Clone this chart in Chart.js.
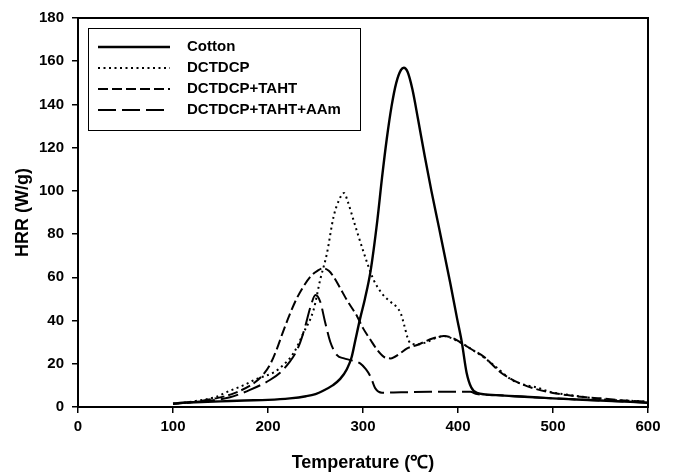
<!DOCTYPE html>
<html><head><meta charset="utf-8">
<script src="https://cdn.jsdelivr.net/npm/chart.js@4/dist/chart.umd.min.js"></script>
<style>html,body{margin:0;padding:0;background:#fff}canvas{display:block}</style>
</head><body>
<canvas id="c" width="684" height="474"></canvas>
<script>
// ---- data ----
const seriesLabels = ['Cotton', 'DCTDCP', 'DCTDCP+TAHT', 'DCTDCP+TAHT+AAm'];

const cottonT   = [100,110,130,150,175,200,223,240,250,258,268,276,283,288,292,297,302,308,315,320,325,330,335,340,343,347,352,358,365,372,380,392,399,404,409,414,420,440,460,480,500,525,550,575,600];
const cottonHRR = [1.5,2,2.3,2.6,3,3.3,4,5,6,7.5,10,13,17.5,23,31,41,50,63,86,106,124,139,150,156,157,155,147,133,116,100,83,57,41,30,16,9,6.5,5.5,5,4.5,4,3.5,3,2.5,2];

const dctT   = [100,120,146,157,174,188,206,215,227,237,248,255,262,269,275,280,284,290,300,311,320,328,336,340,343,347,350,358,367,374,385,395,404,415,427,440,455,468,483,497,518,535,553,575,600];
const dctHRR = [1.5,2.5,4.8,7,10,13,16,19,25,34,45,59,71,88,96,99,95,86.5,72.5,59,52.5,49,46,43,38.5,32,29.5,29,30,31.5,32.8,31.5,29.5,26.5,23,18.5,13,10.5,9,7,5.5,4.5,3.5,3,2.5];

const tahtT   = [100,115,129,145,164,185,195,202,209,216,223,230,237,245,252,258,264,269,276,283,294,300,308,315,322,329,339,346,357,374,385,395,404,415,427,445,460,480,500,515,535,550,575,600];
const tahtHRR = [1.5,2,2.8,4,6.3,11,15,19.5,26.5,35,43,50,55.5,60.5,63,64.2,63,60.3,55,49.5,41.8,36.5,31,26.4,23.2,22.5,24.8,27,28.7,31.8,32.8,31.8,29.5,26.5,23.3,16,12,8.6,6.5,5.5,4.5,4,3,2.5];

const aamT   = [100,120,140,160,181,202,213,223,229,234,239,244.5,250,255,260,265.5,272.6,280,287,297,303,308,313,320,340,370,400,413,420,440,460,480,500,525,550,575,600];
const aamHRR = [1.5,2.2,3,4.5,7.9,12.5,16,21,25,30,37,46,51.8,48.7,39.5,30.2,24,22.5,21.7,20.2,17.5,14,8.6,6.6,6.8,7,7.1,7,6,5.5,5,4.5,4,3.5,3,2.5,2];

const xTicks = [0,100,200,300,400,500,600];
const yTicks = [0,20,40,60,80,100,120,140,160,180];

// ---- chart ----
const FONT = "'Liberation Sans', Arial, Helvetica, sans-serif";
function pts(t, v) { return t.map((x, i) => ({x: x, y: v[i]})); }

const boxLegend = {
  id: 'boxLegend',
  afterDatasetsDraw(chart) {
    const {ctx, chartArea: a} = chart;
    const left = a.left + 10, top = a.top + 10, w = 272, h = 102;
    ctx.save();
    ctx.fillStyle = '#fff';
    ctx.fillRect(left, top, w, h);
    ctx.strokeStyle = '#000';
    ctx.lineWidth = 1;
    ctx.strokeRect(left + 0.5, top + 0.5, w, h);
    ctx.font = 'bold 15px ' + FONT;
    ctx.textBaseline = 'middle';
    ctx.textAlign = 'left';
    chart.data.datasets.forEach((ds, i) => {
      const y = top + 19 + i * 21;
      ctx.strokeStyle = ds.borderColor;
      ctx.lineWidth = ds.borderWidth;
      ctx.setLineDash(ds.borderDash || []);
      ctx.beginPath();
      ctx.moveTo(left + 10, y);
      ctx.lineTo(left + 82, y);
      ctx.stroke();
      ctx.setLineDash([]);
      ctx.fillStyle = '#000';
      ctx.fillText(ds.label, left + 99, y);
    });
    ctx.restore();
  }
};

const tickFont = {family: FONT, size: 15, weight: 'bold'};
const titleFont = {family: FONT, size: 18, weight: 'bold'};

new Chart(document.getElementById('c'), {
  type: 'line',
  data: {
    datasets: [
      {label: seriesLabels[0], data: pts(cottonT, cottonHRR), borderColor: '#000', borderWidth: 2.4, borderDash: []},
      {label: seriesLabels[1], data: pts(dctT, dctHRR), borderColor: '#000', borderWidth: 2, borderDash: [2, 3.5]},
      {label: seriesLabels[2], data: pts(tahtT, tahtHRR), borderColor: '#000', borderWidth: 2, borderDash: [10, 4]},
      {label: seriesLabels[3], data: pts(aamT, aamHRR), borderColor: '#000', borderWidth: 2, borderDash: [18, 6]}
    ]
  },
  options: {
    responsive: false,
    animation: false,
    layout: {padding: 0},
    elements: {point: {radius: 0}, line: {cubicInterpolationMode: 'monotone', fill: false}},
    plugins: {legend: {display: false}, tooltip: {enabled: false}},
    scales: {
      x: {
        type: 'linear', position: 'bottom', min: 0, max: 600,
        afterBuildTicks: s => { s.ticks = xTicks.map(v => ({value: v})); },
        ticks: {font: tickFont, color: '#000', padding: 5, maxRotation: 0, autoSkip: false},
        grid: {display: true, drawOnChartArea: false, drawTicks: true, tickLength: 6, color: '#000', lineWidth: 1.5},
        border: {display: true, color: '#000', width: 2},
        title: {display: true, text: 'Temperature (℃)', font: titleFont, color: '#000', padding: {top: 0, bottom: 0}},
        afterFit: s => { s.height = 67; }
      },
      y: {
        type: 'linear', position: 'left', min: 0, max: 180,
        afterBuildTicks: s => { s.ticks = yTicks.map(v => ({value: v})); },
        ticks: {font: tickFont, color: '#000', padding: 8, autoSkip: false},
        grid: {display: true, drawOnChartArea: false, drawTicks: true, tickLength: 6, color: '#000', lineWidth: 1.5},
        border: {display: true, color: '#000', width: 2},
        title: {display: true, text: 'HRR (W/g)', font: titleFont, color: '#000', padding: {top: 12, bottom: 0}},
        afterFit: s => { s.width = 78; }
      },
      x2: {
        axis: 'x', type: 'linear', position: 'top', min: 0, max: 600,
        ticks: {display: false}, grid: {display: false},
        border: {display: true, color: '#000', width: 2},
        afterFit: s => { s.height = 18; }
      },
      y2: {
        axis: 'y', type: 'linear', position: 'right', min: 0, max: 180,
        ticks: {display: false}, grid: {display: false},
        border: {display: true, color: '#000', width: 2},
        afterFit: s => { s.width = 36; }
      }
    }
  },
  plugins: [boxLegend]
});
</script>
</body></html>
